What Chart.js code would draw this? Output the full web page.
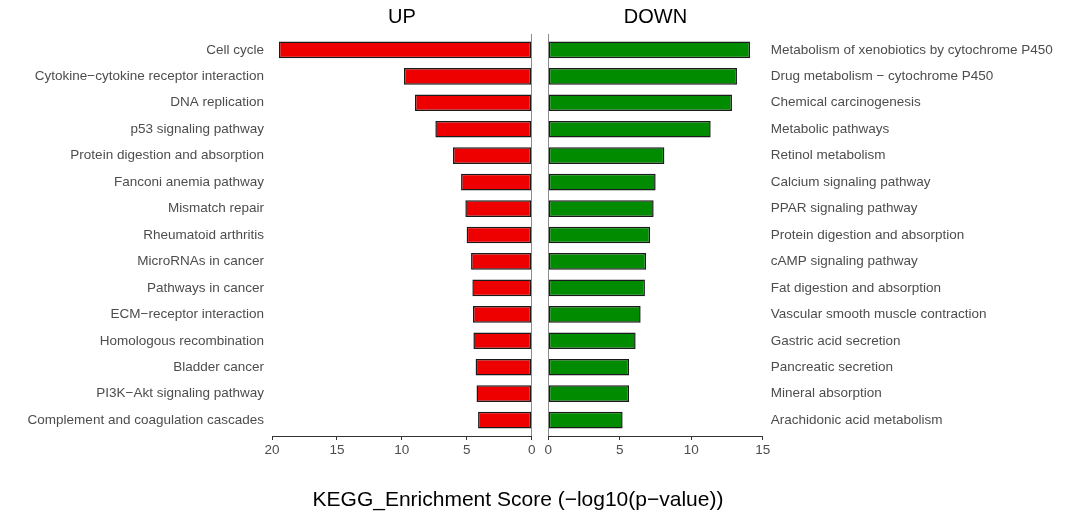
<!DOCTYPE html>
<html>
<head>
<meta charset="utf-8">
<script src="https://cdn.jsdelivr.net/npm/chart.js@4.4.0/dist/chart.umd.min.js"></script>
<style>
  body { margin: 0; background: #fff; }
  #wrap { position: relative; width: 1080px; height: 524px; font-family: "Liberation Sans", Arial, sans-serif; }
  #up { position: absolute; left: 0; top: 0; }
  #down { position: absolute; left: 535px; top: 0; }
  #xtitle { position: absolute; left: 0; width: 1036px; top: 487px; text-align: center; font-size: 21px; color: #000; }
</style>
</head>
<body>
<div id="wrap">
  <canvas id="up" width="545" height="524"></canvas>
  <canvas id="down" width="545" height="524"></canvas>
  <div id="xtitle">KEGG_Enrichment Score (−log10(p−value))</div>
</div>
<script>
const upLabels = ["Cell cycle", "Cytokine−cytokine receptor interaction", "DNA replication",
  "p53 signaling pathway", "Protein digestion and absorption", "Fanconi anemia pathway",
  "Mismatch repair", "Rheumatoid arthritis", "MicroRNAs in cancer", "Pathways in cancer",
  "ECM−receptor interaction", "Homologous recombination", "Bladder cancer",
  "PI3K−Akt signaling pathway", "Complement and coagulation cascades"]
const upValues = [19.47, 9.84, 8.99, 7.42, 6.06, 5.44, 5.11, 5.01, 4.67, 4.57, 4.52, 4.49, 4.32, 4.25, 4.13]

const downLabels = ["Metabolism of xenobiotics by cytochrome P450", "Drug metabolism − cytochrome P450",
  "Chemical carcinogenesis", "Metabolic pathways", "Retinol metabolism", "Calcium signaling pathway",
  "PPAR signaling pathway", "Protein digestion and absorption", "cAMP signaling pathway",
  "Fat digestion and absorption", "Vascular smooth muscle contraction", "Gastric acid secretion",
  "Pancreatic secretion", "Mineral absorption", "Arachidonic acid metabolism"]
const downValues = [14.11, 13.2, 12.85, 11.36, 8.12, 7.51, 7.37, 7.12, 6.84, 6.76, 6.46, 6.11, 5.65, 5.65, 5.2]

const upTicks = [0, 5, 10, 15, 20]
const downTicks = [0, 5, 10, 15]

const labelFont = { family: "'Liberation Sans', Arial, sans-serif", size: 13.5 }
const labelColor = "#4d4d4d"

function makeChart(id, title, labels, values, ticks, color, side) {
  const left = side === "left"
  const config = {
    type: "bar",
    data: {
      datasets: [
        {
          data: values.map((v, i) => ({ x: v, y: i })),
          backgroundColor: color,
          borderColor: "#1a1a1a",
          borderWidth: 1.5,
          borderSkipped: false,
          barPercentage: 0.63,
          categoryPercentage: 1,
        },
      ],
    },
    options: {
      indexAxis: "y",
      responsive: false,
      animation: false,
      layout: {
        padding: left ? { top: 0, right: 13.3, bottom: 0, left: 0 } : { top: 0, right: 0, bottom: 0, left: 13.3 },
      },
      plugins: {
        legend: { display: false },
        tooltip: { enabled: false },
        title: {
          display: true,
          text: title,
          fullSize: false,
          color: "#000",
          font: { family: "'Liberation Sans', Arial, sans-serif", size: 20, weight: "normal" },
          padding: { top: 5, bottom: 5 },
        },
      },
      scales: {
        x: {
          type: "linear",
          min: 0,
          max: ticks[ticks.length - 1],
          reverse: left,
          afterBuildTicks: (scale) => {
            scale.ticks = ticks.map((t) => ({ value: t }))
          },
          afterFit: (scale) => {
            scale.height = 88
          },
          ticks: { color: labelColor, font: labelFont, padding: 2 },
          grid: {
            color: (ctx) => (ctx.tick && ctx.tick.value === 0 ? "#8c8c8c" : "rgba(0,0,0,0)"),
            tickColor: "#333",
            tickLength: 4,
            lineWidth: 1,
          },
          border: { display: true, color: "#333", width: 1 },
        },
        y: {
          type: "linear",
          position: side,
          offset: false,
          min: -0.6,
          max: labels.length - 0.4,
          reverse: true,
          afterBuildTicks: (scale) => {
            scale.ticks = labels.map((_, i) => ({ value: i }))
          },
          afterFit: (scale) => {
            scale.width = left ? 272 : 317.3
          },
          ticks: {
            autoSkip: false,
            color: labelColor,
            font: labelFont,
            padding: 8,
            callback: (val) => labels[val],
          },
          grid: { display: false, drawTicks: false, offset: false },
          border: { display: false },
        },
      },
    },
  }
  return new Chart(document.getElementById(id), config)
}

makeChart("up", "UP", upLabels, upValues, upTicks, "#ee0000", "left")
makeChart("down", "DOWN", downLabels, downValues, downTicks, "#008b00", "right")
</script>
</body>
</html>
